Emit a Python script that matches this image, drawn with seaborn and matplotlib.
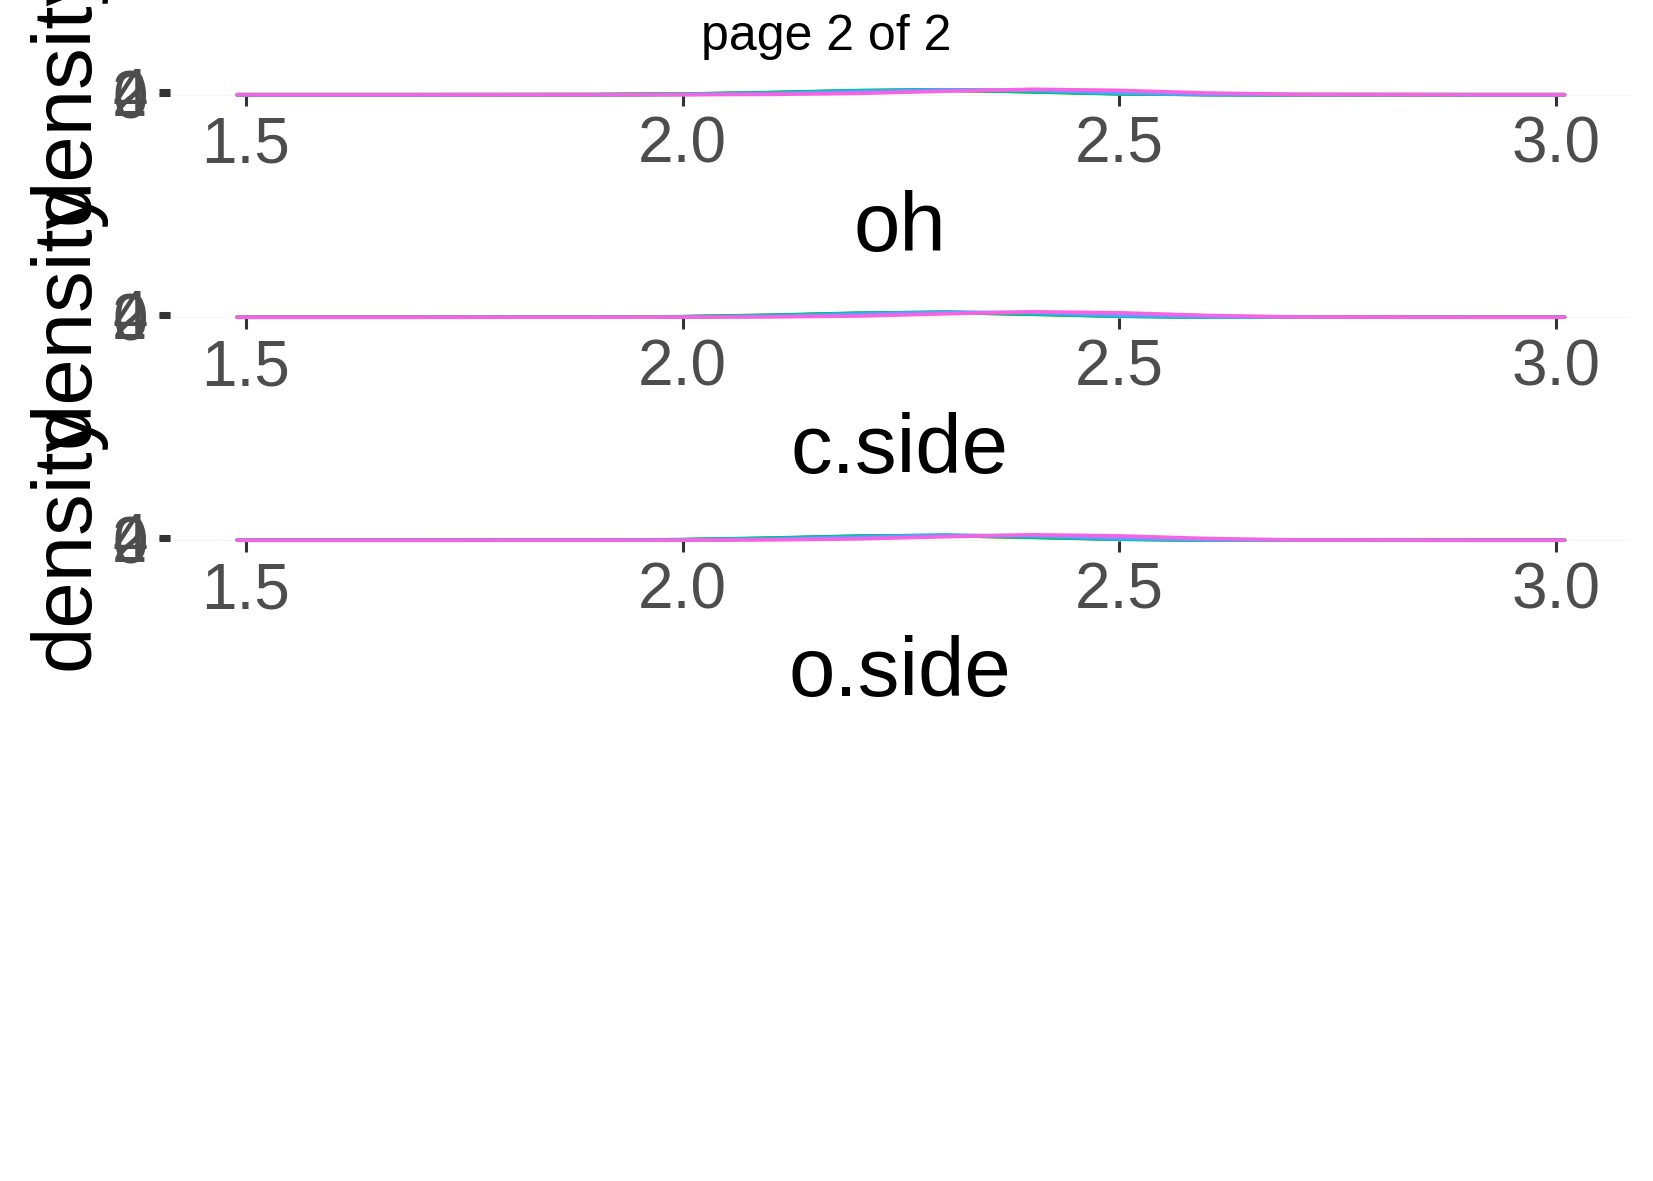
import matplotlib
matplotlib.use('Agg')
import matplotlib.pyplot as plt
import seaborn as sns
import pandas as pd

# Dữ liệu (mật độ ước lượng trên lưới x)
panels = ['oh', 'c.side', 'o.side']
groups = ['1', '2', '3', '4', '5', '6']
colors = ['#F8766D', '#B79F00', '#00BA38', '#00BFC4', '#619CFF', '#F564E3']
x_grid = [1.49, 1.7, 1.9, 2.0, 2.1, 2.2, 2.3, 2.4, 2.5, 2.6, 2.7, 2.9, 3.01]

dens_oh = [
    [0, 0, 0.05, 0.4, 1.5, 3.2, 4.0, 3.0, 1.2, 0.3, 0.05, 0, 0],
    [0, 0, 0.05, 0.5, 1.8, 3.5, 4.2, 2.8, 1.0, 0.2, 0.03, 0, 0],
    [0, 0, 0.1, 0.6, 2.0, 3.8, 4.5, 2.6, 0.8, 0.15, 0.02, 0, 0],
    [0, 0, 0.05, 0.4, 1.6, 3.6, 4.6, 3.2, 1.0, 0.2, 0.02, 0, 0],
    [0, 0, 0.02, 0.2, 0.9, 2.6, 4.4, 4.2, 1.8, 0.4, 0.05, 0, 0],
    [0, 0, 0.01, 0.05, 0.3, 1.2, 3.2, 5.0, 4.0, 1.6, 0.3, 0.01, 0],
]
dens_cside = [
    [0, 0, 0.05, 0.3, 1.3, 3.0, 4.1, 3.1, 1.3, 0.3, 0.05, 0, 0],
    [0, 0, 0.05, 0.4, 1.6, 3.4, 4.3, 2.9, 1.1, 0.2, 0.03, 0, 0],
    [0, 0, 0.08, 0.5, 1.9, 3.7, 4.5, 2.7, 0.9, 0.15, 0.02, 0, 0],
    [0, 0, 0.05, 0.4, 1.5, 3.5, 4.7, 3.3, 1.0, 0.2, 0.02, 0, 0],
    [0, 0, 0.02, 0.2, 0.8, 2.5, 4.5, 4.3, 1.9, 0.4, 0.05, 0, 0],
    [0, 0, 0.01, 0.05, 0.3, 1.1, 3.1, 5.0, 4.1, 1.7, 0.3, 0.01, 0],
]
dens_oside = [
    [0, 0, 0.05, 0.3, 1.4, 3.1, 4.0, 3.0, 1.3, 0.3, 0.05, 0, 0],
    [0, 0, 0.05, 0.4, 1.7, 3.5, 4.2, 2.8, 1.1, 0.2, 0.03, 0, 0],
    [0, 0, 0.08, 0.6, 2.0, 3.8, 4.4, 2.6, 0.9, 0.15, 0.02, 0, 0],
    [0, 0, 0.05, 0.4, 1.6, 3.6, 4.6, 3.2, 1.0, 0.2, 0.02, 0, 0],
    [0, 0, 0.02, 0.2, 0.9, 2.6, 4.4, 4.2, 1.8, 0.4, 0.05, 0, 0],
    [0, 0, 0.01, 0.05, 0.3, 1.2, 3.2, 5.0, 4.0, 1.6, 0.3, 0.01, 0],
]
all_dens = [dens_oh, dens_cside, dens_oside]

x_ticks = [1.5, 2.0, 2.5, 3.0]
x_tick_labels = ['1.5', '2.0', '2.5', '3.0']
y_ticks = [0, 2, 4]

sns.set_theme(style='white')
plt.rcParams['font.family'] = ['Liberation Sans', 'DejaVu Sans']

W, H = 1653, 1181
fig = plt.figure(figsize=(W / 100, H / 100), dpi=100)

# vị trí đáy từng panel (pixel)
bottoms = [95, 317.5, 540.5]

for name, dens, b in zip(panels, all_dens, bottoms):
    rows = []
    for g, vals in zip(groups, dens):
        for xv, yv in zip(x_grid, vals):
            rows.append({'x': xv, 'density': yv, 'group': g})
    df = pd.DataFrame(rows)

    ax = fig.add_axes([170 / W, 1 - b / H, 1460 / W, 6 / H])
    ax.axhline(0, color='#F4F4F4', lw=0.6, zorder=0)
    sns.lineplot(data=df, x='x', y='density', hue='group', palette=colors,
                 linewidth=2.6, legend=False, ax=ax)
    for line in ax.lines:
        line.set_clip_on(False)

    ax.set_xlim(1.413, 3.085)
    ax.set_ylim(-0.25, 5.25)
    ax.set_xticks(x_ticks)
    ax.set_xticklabels(x_tick_labels)
    ax.set_yticks(y_ticks)
    for s in ax.spines.values():
        s.set_visible(False)
    ax.tick_params(axis='both', length=8, width=2.2, color='#333333',
                   labelsize=46, labelcolor='#4D4D4D', pad=7)
    ax.tick_params(axis='x', bottom=True)
    ax.tick_params(axis='y', left=True, pad=8)
    ax.set_xlabel(name, fontsize=60, color='black', labelpad=10)
    ax.set_ylabel('density', fontsize=60, color='black', labelpad=5)

fig.text(0.5, 1 - 50 / H, 'page 2 of 2', ha='center', va='baseline',
         fontsize=36, color='black')

fig.savefig('out.png', dpi=100)
plt.close(fig)
